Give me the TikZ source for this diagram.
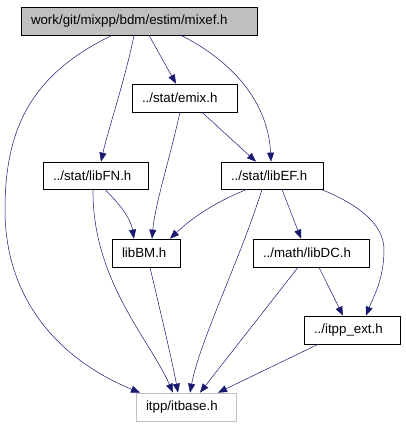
\documentclass[tikz,border=0pt]{standalone}
\usepackage{fontspec}
\setmainfont{Liberation Sans}
\usepackage{tikz}
\usetikzlibrary{arrows.meta}
\definecolor{edgeblue}{HTML}{191970}
\definecolor{boxgray}{HTML}{BFBFBF}
\tikzstyle{filebox} = [draw=black, fill=white, line width=0.7pt,
    rectangle, inner xsep=10pt, inner ysep=0pt, minimum height=28pt, align=left,
    font=\fontsize{13.3}{15}\selectfont]
\tikzstyle{mainbox} = [filebox, fill=boxgray]
\tikzstyle{extbox} = [filebox, draw=boxgray]
\tikzstyle{incl} = [draw=edgeblue, line width=0.5pt,
    -{Triangle[length=9pt,width=7pt,fill=edgeblue]}]

\begin{document}
\begin{tikzpicture}[x=1pt, y=-1pt]
                \useasboundingbox (0,0) rectangle (405,427);
                % files
                \node [mainbox, text width=216pt] (mixef) at (139,21) {work/git/mixpp/bdm/estim/mixef.h};
                \node [filebox, text width=85pt] (emix) at (184.5,98) {../stat/emix.h};
                \node [filebox, text width=85pt, minimum height=27pt] (libFN) at (95.5,175.5) {../stat/libFN.h};
                \node [filebox, text width=82pt, minimum height=27pt] (libEF) at (272,175.5) {../stat/libEF.h};
                \node [filebox, text width=48pt] (libBM) at (146,253) {libBM.h};
                \node [filebox, text width=96pt] (libDC) at (311,253) {../math/libDC.h};
                \node [filebox, text width=76pt] (itppext) at (352,330) {../itpp\_ext.h};
                \node [extbox, text width=80pt] (itbase) at (186,407) {itpp/itbase.h};
                % includes
                \draw [incl] ([xshift=-27pt]mixef.south) .. controls (30,75) and (5,130) .. (5,210)
                    .. controls (5,300) and (60,360) .. ([xshift=-46pt]itbase.north);
                \draw [incl] ([xshift=-5pt]mixef.south) .. controls (125,80) and (108,130) .. ([xshift=5.5pt]libFN.north);
                \draw [incl] ([xshift=10pt]mixef.south) -- ([xshift=-8.5pt]emix.north);
                \draw [incl] ([xshift=42pt]mixef.south) .. controls (230,60) and (268,100) .. ([xshift=-1pt]libEF.north);
                \draw [incl] ([xshift=-4.5pt]emix.south) .. controls (168,165) and (155,205) .. ([xshift=6pt]libBM.north);
                \draw [incl] ([xshift=17.5pt]emix.south) -- ([xshift=-16pt]libEF.north);
                \draw [incl] ([xshift=9.5pt]libFN.south) .. controls (115,200) and (130,215) .. ([xshift=-12pt]libBM.north);
                \draw [incl] ([xshift=-2.5pt]libFN.south) .. controls (92,280) and (150,340) .. ([xshift=-13pt]itbase.north);
                \draw [incl] ([xshift=-25pt]libEF.south) .. controls (220,200) and (195,215) .. ([xshift=24pt]libBM.north);
                \draw [incl] ([xshift=-10pt]libEF.south) .. controls (240,260) and (200,340) .. ([xshift=4pt]itbase.north);
                \draw [incl] ([xshift=10pt]libEF.south) -- ([xshift=-10pt]libDC.north);
                \draw [incl] ([xshift=49pt]libEF.south) .. controls (360,205) and (384,225) .. (384,250)
                    .. controls (384,280) and (372,300) .. ([xshift=14pt]itppext.north);
                \draw [incl] ([xshift=4pt]libBM.south) .. controls (160,310) and (172,360) .. ([xshift=-8pt]itbase.north);
                \draw [incl] ([xshift=-13pt]libDC.south) -- ([xshift=14pt]itbase.north);
                \draw [incl] ([xshift=8pt]libDC.south) -- ([xshift=-9pt]itppext.north);
                \draw [incl] ([xshift=-34pt]itppext.south) -- ([xshift=32pt]itbase.north);
\end{tikzpicture}
\end{document}
